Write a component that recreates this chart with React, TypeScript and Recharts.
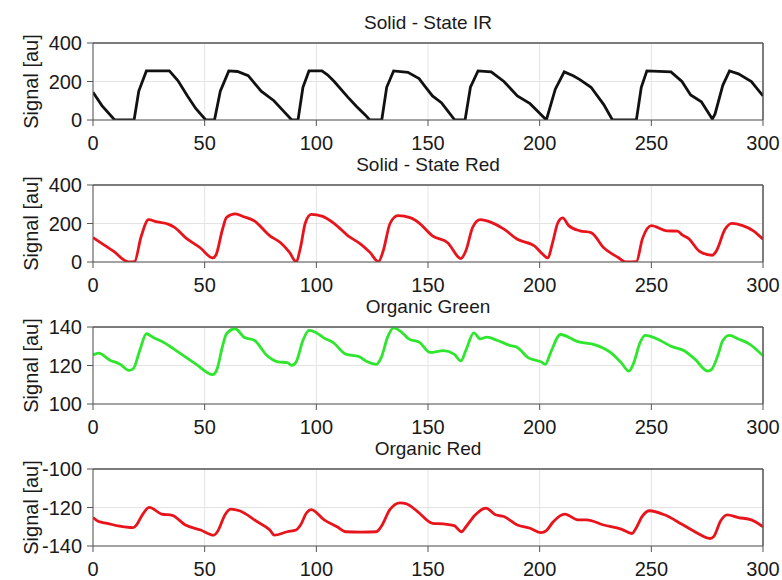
import React from "react";
import { LineChart, Line, XAxis, YAxis, CartesianGrid, ReferenceLine } from "recharts";

const xTicks = [0, 50, 100, 150, 200, 250, 300];

const irT = [0, 4, 9.7, 18.4, 20.5, 23.9, 34.2, 38, 42.3, 46, 50.5, 54.4, 57, 60.8, 64.7, 69.5, 72, 75.3, 81, 85, 89, 91.8, 94, 96.7, 102.5, 105, 108, 114, 118, 122, 123.9, 129.3, 131.5, 134.6, 141, 146, 149, 152, 156, 159, 162, 166.6, 169, 172.4, 178.3, 184, 190, 195.7, 200, 203, 207, 211, 215, 218, 223, 228.7, 232.6, 243.3, 245.5, 248, 258.8, 263.7, 267.6, 272.4, 277.3, 278.5, 282, 285, 289, 294.8, 300];
const irV = [144, 75, 0, 0, 150, 255, 255, 205, 125, 60, 0, 0, 150, 255, 252, 230, 195, 150, 100, 50, 0, 0, 170, 255, 255, 235, 200, 120, 70, 25, 0, 0, 170, 255, 248, 215, 170, 125, 90, 45, 0, 0, 170, 255, 250, 200, 125, 85, 35, 0, 160, 250, 230, 210, 170, 80, 0, 0, 170, 255, 250, 200, 130, 95, 5, 30, 180, 255, 240, 200, 125];

const srT = [0, 5.4, 9.3, 14.2, 16, 18.6, 21.5, 24.9, 28.7, 33.6, 36.5, 41.4, 48, 53.6, 55, 58, 59.8, 63.7, 67.6, 72.4, 79.2, 84, 88, 90.9, 93, 95, 97.7, 102.5, 108.3, 114.2, 120, 124, 127.8, 130, 133, 136.5, 142.3, 146.2, 152, 158.8, 164.7, 167, 170, 173.4, 178.3, 184, 190, 197.7, 201.5, 203.5, 206, 208, 210.3, 213, 218, 223, 228.7, 235.5, 238.4, 243.3, 246, 250, 256.9, 261.7, 264, 266.6, 271.5, 277.3, 279, 283, 286, 290.9, 295.7, 300];
const srV = [127, 85, 55, 8, 0, 2, 130, 220, 208, 197, 180, 127, 74, 21, 35, 170, 232, 250, 235, 212, 136, 100, 50, 2, 80, 200, 247, 238, 197, 136, 92, 50, 2, 60, 200, 241, 229, 201, 136, 100, 18, 60, 180, 220, 206, 171, 118, 83, 39, 21, 110, 200, 229, 189, 162, 153, 74, 21, 0, 2, 120, 189, 162, 160, 140, 123, 56, 35, 55, 170, 201, 189, 162, 118];

const ogT = [0, 2.5, 7.4, 12.2, 16.1, 18, 21, 23.9, 27, 31.7, 38.4, 46.2, 53.6, 55.5, 58, 59.8, 63.7, 67.6, 72.4, 77.3, 83, 87, 89, 91, 94, 96.7, 100, 103.5, 107.4, 113.2, 119, 122.9, 126.8, 129, 132, 134.6, 138, 141.4, 146.2, 151, 156.9, 161.7, 164.7, 167, 170.5, 173.4, 176.3, 181.2, 187, 190, 194.8, 200.6, 202.5, 205, 209.3, 217, 224.9, 231.7, 236.5, 240, 242, 245, 247.2, 254, 258.8, 264.7, 269.5, 275.3, 277, 280, 282, 285, 289, 293.8, 300];
const ogV = [125.5, 126.4, 122.9, 120.6, 117.5, 118.3, 128, 136.5, 134.5, 132, 126.8, 120.6, 115.3, 118, 130, 136.5, 139.1, 134.7, 133, 125.9, 121.9, 121.5, 120.1, 122, 133, 138.2, 137, 134.2, 132, 125.9, 124.7, 121.9, 120.6, 124, 135, 139.5, 137.5, 133.8, 132, 126.8, 127.7, 125.9, 122.4, 128, 137, 133.8, 134.7, 133, 130.3, 129.4, 124.1, 121.9, 120.6, 127, 136.1, 132.4, 130.7, 126.8, 121.5, 117.1, 121, 132, 135.6, 133, 130, 127.7, 123.3, 117.1, 118, 126, 133, 135.6, 133.8, 131.2, 125];

const orT = [0, 2.5, 6.4, 11.3, 18, 19.5, 22, 25.2, 30.7, 35.5, 41.4, 48.2, 54, 56, 59, 61.7, 65.6, 73.4, 79.2, 81.2, 87, 90.9, 93, 95.5, 97.7, 103.5, 109.3, 113.2, 120, 126.8, 129, 133, 137.5, 140.4, 145.2, 152, 156.9, 161.7, 165, 167, 171, 175.9, 180.2, 184, 190, 195.7, 200.6, 203, 206, 211.3, 217, 221, 228.7, 236.5, 241.4, 243, 246, 249.1, 255.9, 263.7, 269.5, 276.3, 278, 281, 284, 289, 294.8, 300];
const orV = [-125.2, -127.3, -128.2, -129.6, -130.5, -129, -124, -119.9, -123.4, -124.1, -129.1, -131.7, -134.4, -132, -124, -120.8, -121.7, -127.3, -131.7, -134.4, -132.6, -131.7, -129, -123, -121.1, -126.4, -130, -132.6, -132.8, -132.6, -130, -121, -117.6, -118.1, -122, -128.2, -128.5, -129.4, -132.6, -130, -124, -120.3, -123.8, -124.7, -129.1, -130.8, -133.1, -132, -127.5, -123.4, -126.4, -126.4, -129.1, -131.2, -133.5, -131, -124.5, -121.7, -123.8, -128.7, -132.6, -136.1, -135, -127, -123.8, -125.2, -126.4, -130];

const titles = ["Solid - State IR", "Solid - State Red", "Organic Green", "Organic Red"];
const yTicksIR = [0, 200, 400];
const yTicksSR = [0, 200, 400];
const yTicksOG = [100, 120, 140];
const yTicksOR = [-140, -120, -100];

const toData = (t: number[], v: number[]) => t.map((x, i) => ({ t: x, v: v[i] }));

const FONT = "'Liberation Sans', Arial, sans-serif";
const AXIS = "#555555";
const TEXT = "#1a1a1a";

type PanelProps = {
  title: string;
  data: { t: number; v: number }[];
  yTicks: number[];
  color: string;
  curve: "linear" | "monotone";
  top: number;
};

function Panel({ title, data, yTicks, color, curve, top }: PanelProps) {
  const domain: [number, number] = [yTicks[0], yTicks[yTicks.length - 1]];
  const tickStyle = { fontSize: 20, fill: TEXT, fontFamily: FONT };
  return (
    <div style={{ position: "absolute", left: 0, top }}>
      <div
        style={{
          position: "absolute",
          left: 93,
          width: 670,
          top: -0.5,
          height: 20,
          lineHeight: "20px",
          textAlign: "center",
          fontSize: 19,
          fontFamily: FONT,
          color: TEXT,
          whiteSpace: "nowrap",
        }}
      >
        {title}
      </div>
      <LineChart width={782} height={141} data={data} margin={{ top: 29, right: 18, bottom: 4, left: 0 }}>
        <CartesianGrid stroke="#e4e4e4" strokeWidth={1} />
        <XAxis
          dataKey="t"
          type="number"
          domain={[0, 300]}
          ticks={xTicks}
          height={30}
          stroke={AXIS}
          tickSize={6}
          tickMargin={10}
          tick={tickStyle}
          interval={0}
          allowDataOverflow
        />
        <XAxis
          xAxisId="top"
          dataKey="t"
          orientation="top"
          type="number"
          domain={[0, 300]}
          ticks={xTicks}
          height={1}
          stroke={AXIS}
          tickSize={6}
          tick={false}
          interval={0}
          allowDataOverflow
        />
        <YAxis
          type="number"
          domain={domain}
          ticks={yTicks}
          width={93}
          stroke={AXIS}
          tickSize={6}
          tickMargin={5}
          tick={tickStyle}
          interval={0}
          allowDataOverflow
          label={(props: any) => {
            const vb = props.viewBox || { x: 0, y: 30, width: 93, height: 77 };
            const cy = vb.y + vb.height / 2;
            return (
              <text
                x={31}
                y={cy}
                transform={`rotate(-90, 31, ${cy})`}
                textAnchor="middle"
                dominantBaseline="central"
                fontSize={20}
                fill={TEXT}
                fontFamily={FONT}
              >
                Signal [au]
              </text>
            );
          }}
        />
        <YAxis
          yAxisId="right"
          orientation="right"
          type="number"
          domain={domain}
          ticks={yTicks}
          width={1}
          stroke={AXIS}
          tickSize={6}
          tick={false}
          interval={0}
          allowDataOverflow
        />
        <ReferenceLine y={domain[1]} stroke={AXIS} strokeWidth={1} ifOverflow="visible" />
        <ReferenceLine x={300} stroke={AXIS} strokeWidth={1} ifOverflow="visible" />
        <Line
          xAxisId="top"
          yAxisId="right"
          type="linear"
          dataKey="v"
          stroke="none"
          strokeWidth={0}
          dot={false}
          activeDot={false}
          isAnimationActive={false}
        />
        <Line
          type={curve}
          dataKey="v"
          stroke={color}
          strokeWidth={2.8}
          dot={false}
          isAnimationActive={false}
        />
      </LineChart>
    </div>
  );
}

export default function App() {
  return (
    <div style={{ position: "absolute", left: 0, top: 0, width: 782, height: 580, background: "#fff" }}>
      <Panel title={titles[0]} data={toData(irT, irV)} yTicks={yTicksIR} color="#111111" curve="linear" top={13} />
      <Panel title={titles[1]} data={toData(srT, srV)} yTicks={yTicksSR} color="#e8141c" curve="monotone" top={155} />
      <Panel title={titles[2]} data={toData(ogT, ogV)} yTicks={yTicksOG} color="#2ee62e" curve="monotone" top={297} />
      <Panel title={titles[3]} data={toData(orT, orV)} yTicks={yTicksOR} color="#e8141c" curve="monotone" top={439} />
    </div>
  );
}
